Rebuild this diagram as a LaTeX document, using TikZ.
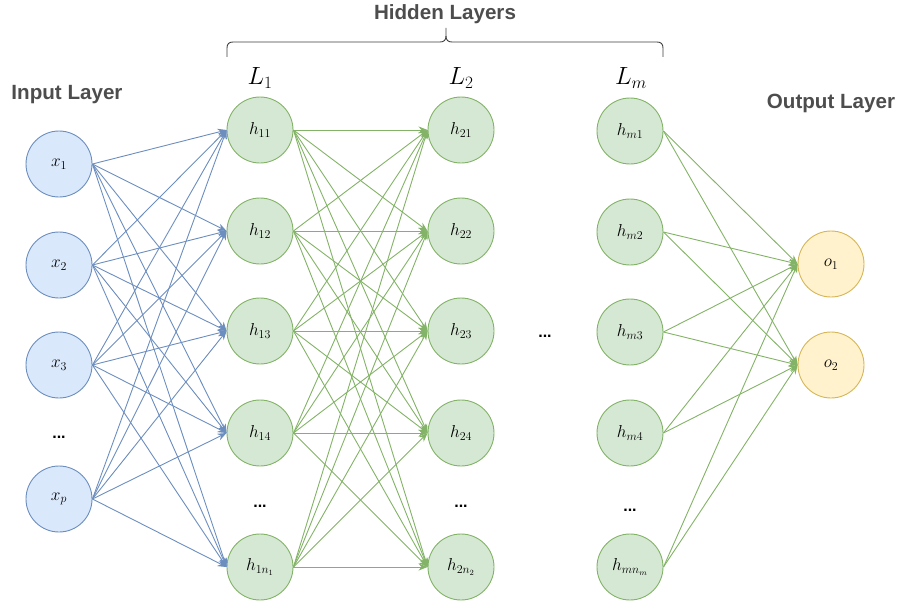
\documentclass[tikz,border=0pt]{standalone}
\usepackage{fontspec}
\newfontfamily\labfont{Liberation Sans}
\usetikzlibrary{arrows.meta}
\definecolor{bluefill}{HTML}{DAE8FC}
\definecolor{bluestroke}{HTML}{6C8EBF}
\definecolor{greenfill}{HTML}{D5E8D4}
\definecolor{greenstroke}{HTML}{82B366}
\definecolor{yellowfill}{HTML}{FFF2CC}
\definecolor{yellowstroke}{HTML}{D6B656}
\definecolor{labgray}{HTML}{4D4D4D}
\tikzset{
  neuron/.style={circle, minimum size=66pt, inner sep=0pt, line width=0.9pt, font=\fontsize{17}{19}\selectfont},
  inneuron/.style={neuron, draw=bluestroke, fill=bluefill},
  hidneuron/.style={neuron, draw=greenstroke, fill=greenfill},
  outneuron/.style={neuron, draw=yellowstroke, fill=yellowfill},
  blueedge/.style={draw=bluestroke, line width=0.9pt, -{Stealth[length=9pt,width=7pt]}},
  greenedge/.style={draw=greenstroke, line width=0.9pt, -{Stealth[length=9pt,width=7pt]}},
  layerlabel/.style={font=\labfont\bfseries\fontsize{20.6}{24}\selectfont, text=labgray, inner sep=0pt},
  lname/.style={font=\fontsize{24}{28}\selectfont, inner sep=0pt},
  dots/.style={font=\labfont\bfseries\fontsize{16}{18}\selectfont, inner sep=0pt}
}
\begin{document}
\begin{tikzpicture}[x=1pt,y=-1pt]
\useasboundingbox (0,0) rectangle (899,602);
% input layer
\node[inneuron] (x1) at (59,164) {$x_1$};
\node[inneuron] (x2) at (59,265) {$x_2$};
\node[inneuron] (x3) at (59,365) {$x_3$};
\node[inneuron] (xp) at (59,499) {$x_p$};
\node[dots] (xd) at (59,437) {...};
% hidden layer 1
\node[hidneuron] (h11) at (260,130) {$h_{11}$};
\node[hidneuron] (h12) at (260,231) {$h_{12}$};
\node[hidneuron] (h13) at (260,331) {$h_{13}$};
\node[hidneuron] (h14) at (260,433) {$h_{14}$};
\node[hidneuron] (h1n) at (260,567) {$h_{1n_1}$};
\node[dots] (h1d) at (260,506) {...};
% hidden layer 2
\node[hidneuron] (h21) at (461,130) {$h_{21}$};
\node[hidneuron] (h22) at (461,231) {$h_{22}$};
\node[hidneuron] (h23) at (461,331) {$h_{23}$};
\node[hidneuron] (h24) at (461,433) {$h_{24}$};
\node[hidneuron] (h2n) at (461,567) {$h_{2n_2}$};
\node[dots] (h2d) at (461,506) {...};
% hidden layer m
\node[hidneuron] (hm1) at (630,131) {$h_{m1}$};
\node[hidneuron] (hm2) at (630,232) {$h_{m2}$};
\node[hidneuron] (hm3) at (630,332) {$h_{m3}$};
\node[hidneuron] (hm4) at (630,433) {$h_{m4}$};
\node[hidneuron] (hmn) at (630,567) {$h_{mn_m}$};
\node[dots] (hmd) at (630,510) {...};
\node[dots] (midd) at (545,336) {...};
% output layer
\node[outneuron] (o1) at (831,264) {$o_1$};
\node[outneuron] (o2) at (831,365) {$o_2$};
% labels
\node[layerlabel] (inlab) at (67,95) {Input Layer};
\node[layerlabel] (hidlab) at (445,14) {Hidden Layers};
\node[layerlabel] (outlab) at (831,103) {Output Layer};
\node[lname] (L1) at (260,78) {$L_1$};
\node[lname] (L2) at (461,78) {$L_2$};
\node[lname] (Lm) at (631,78) {$L_m$};
% brace
\draw[draw=labgray!80!black, line width=0.9pt]
  (227,57) -- (227,48) .. controls (227,44) and (229,42) .. (233,42) -- (440,42)
  .. controls (444,42) and (446,40) .. (446,36) -- (446,28);
\draw[draw=labgray!80!black, line width=0.9pt]
  (663,57) -- (663,48) .. controls (663,44) and (661,42) .. (657,42) -- (452,42)
  .. controls (448,42) and (446,40) .. (446,36);
% edges input -> L1
\foreach \s in {x1,x2,x3,xp}{
  \foreach \t in {h11,h12,h13,h14,h1n}{
    \draw[blueedge] (\s.east) -- (\t.west);
  }
}
% edges L1 -> L2
\foreach \s in {h11,h12,h13,h14,h1n}{
  \foreach \t in {h21,h22,h23,h24,h2n}{
    \draw[greenedge] (\s.east) -- (\t.west);
  }
}
% edges Lm -> output
\foreach \s in {hm1,hm2,hm3,hm4,hmn}{
  \foreach \t in {o1,o2}{
    \draw[greenedge] (\s.east) -- (\t.west);
  }
}
\end{tikzpicture}
\end{document}
